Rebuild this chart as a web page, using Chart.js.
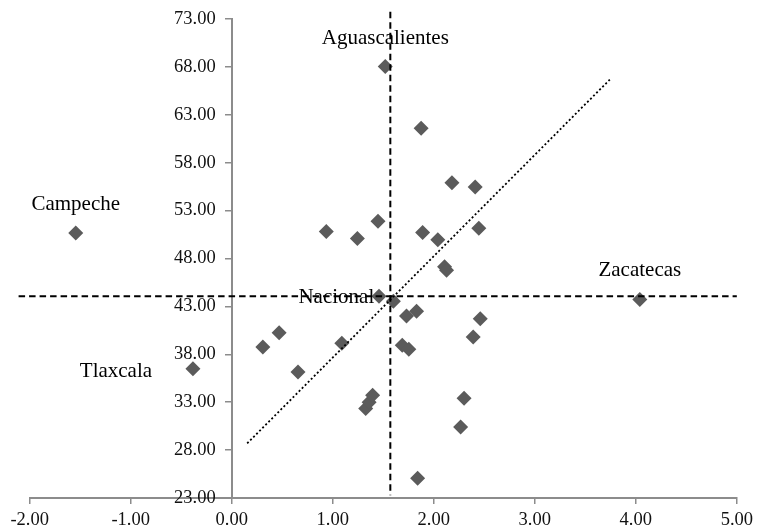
<!DOCTYPE html>
<html>
<head>
<meta charset="utf-8">
<script src="https://cdn.jsdelivr.net/npm/chart.js@4"></script>
<style>
    body { margin: 0; background: #fff; }
</style>
</head>
<body>
<canvas id="scatter" width="758" height="531"></canvas>
<script>
// values
const xValues = [1.52, 1.875, 2.18, 2.41, 0.936, 1.244, 1.448, 1.89, 2.04, 2.446, 2.107, 2.127,
    1.458, 1.60, 1.83, 1.73, 2.46, 2.39, 0.469, 0.308, 1.09, 0.656, 1.688, 1.753,
    1.326, 1.36, 1.395, 2.30, 2.266, 1.84, -1.544, -0.384, 4.04];
const yValues = [68.03, 61.6, 55.9, 55.47, 50.81, 50.08, 51.88, 50.71, 49.95, 51.16, 47.13, 46.78,
    44.07, 43.55, 42.5, 42.0, 41.72, 39.8, 40.26, 38.76, 39.15, 36.16, 38.94, 38.52,
    32.34, 33.0, 33.73, 33.42, 30.4, 25.05, 50.67, 36.5, 43.73];

const meanX = 1.57;
const meanY = 44.07;
const trendX = [0.153, 3.75];
const trendY = [28.7, 66.75];

const labelNames = ["Aguascalientes", "Campeche", "Tlaxcala", "Zacatecas", "Nacional"];
const labelX = [1.52, -1.544, -0.384, 4.04, meanX];
const labelY = [68.03, 50.67, 36.5, 43.73, meanY];

const xTicks = [-2, -1, 0, 1, 2, 3, 4, 5];
const yTicks = [23, 28, 33, 38, 43, 48, 53, 58, 63, 68, 73];

// pixel offsets of the text from its point
const labelOffsets = [[0, -28], [0, -28], [-77, 3], [0, -29], [-54, 1]];

const points = xValues.map((x, i) => ({ x: x, y: yValues[i] }));

const pointLabels = {
    id: "pointLabels",
    afterDatasetsDraw(chart) {
        const ctx = chart.ctx;
        const sx = chart.scales.x, sy = chart.scales.y;
        ctx.save();
        ctx.font = "21px 'Liberation Serif'";
        ctx.fillStyle = "#000";
        ctx.textAlign = "center";
        ctx.textBaseline = "middle";
        labelNames.forEach((name, i) => {
            const px = sx.getPixelForValue(labelX[i]) + labelOffsets[i][0];
            const py = sy.getPixelForValue(labelY[i]) + labelOffsets[i][1];
            ctx.fillText(name, px, py);
        });
        ctx.restore();
    }
};

// an axis placed at x = 0 ignores ticks.padding, so move its labels by hand
const yLabelGap = {
    id: "yLabelGap",
    beforeDraw(chart) {
        const items = chart.scales.y.getLabelItems(chart.chartArea);
        items.forEach(it => {
            if (!it.moved) {
                it.options.translation[0] -= 16;
                it.moved = true;
            }
        });
    }
};

const axisGrey = "#8c8c8c";
const tickFont = { family: "'Liberation Serif'", size: 18.5 };

new Chart("scatter", {
    type: "scatter",
    data: {
        datasets: [
            {
                data: [{ x: meanX, y: 73.75 }, { x: meanX, y: 23.3 }],
                showLine: true,
                borderColor: "#000",
                borderWidth: 2,
                borderDash: [6.5, 4],
                pointRadius: 0,
                clip: false,
                order: 0
            },
            {
                data: [{ x: -2.11, y: meanY }, { x: 5, y: meanY }],
                showLine: true,
                borderColor: "#000",
                borderWidth: 2,
                borderDash: [6.5, 4],
                pointRadius: 0,
                clip: false,
                order: 0
            },
            {
                data: trendX.map((x, i) => ({ x: x, y: trendY[i] })),
                showLine: true,
                borderColor: "#000",
                borderWidth: 1.8,
                borderDash: [2, 2.3],
                pointRadius: 0,
                order: 0
            },
            {
                data: points,
                pointStyle: "rectRot",
                pointRadius: 7.5,
                backgroundColor: "#5b5b5b",
                borderColor: "#5b5b5b",
                borderWidth: 0,
                order: 1
            }
        ]
    },
    options: {
        responsive: false,
        animation: false,
        layout: { padding: { left: 29.7, right: 18, top: 19, bottom: 0 } },
        plugins: { legend: { display: false }, tooltip: { enabled: false } },
        scales: {
            x: {
                type: "linear",
                min: -2,
                max: 5,
                afterBuildTicks: s => { s.ticks = xTicks.map(v => ({ value: v })); },
                afterFit: s => { s.height = 33; },
                ticks: { callback: v => v.toFixed(2), font: tickFont, color: "#111", padding: 5 },
                grid: { drawOnChartArea: false, tickLength: 6, color: axisGrey, lineWidth: 1.5 },
                border: { color: axisGrey, width: 2 }
            },
            y: {
                type: "linear",
                min: 23,
                max: 73,
                position: { x: 0 },
                afterBuildTicks: s => { s.ticks = yTicks.map(v => ({ value: v })); },
                ticks: { callback: v => v.toFixed(2), font: tickFont, color: "#111" },
                grid: { drawOnChartArea: false, tickLength: 6, color: axisGrey, lineWidth: 1.5 },
                border: { color: axisGrey, width: 2 }
            }
        }
    },
    plugins: [pointLabels, yLabelGap]
});
</script>
</body>
</html>
